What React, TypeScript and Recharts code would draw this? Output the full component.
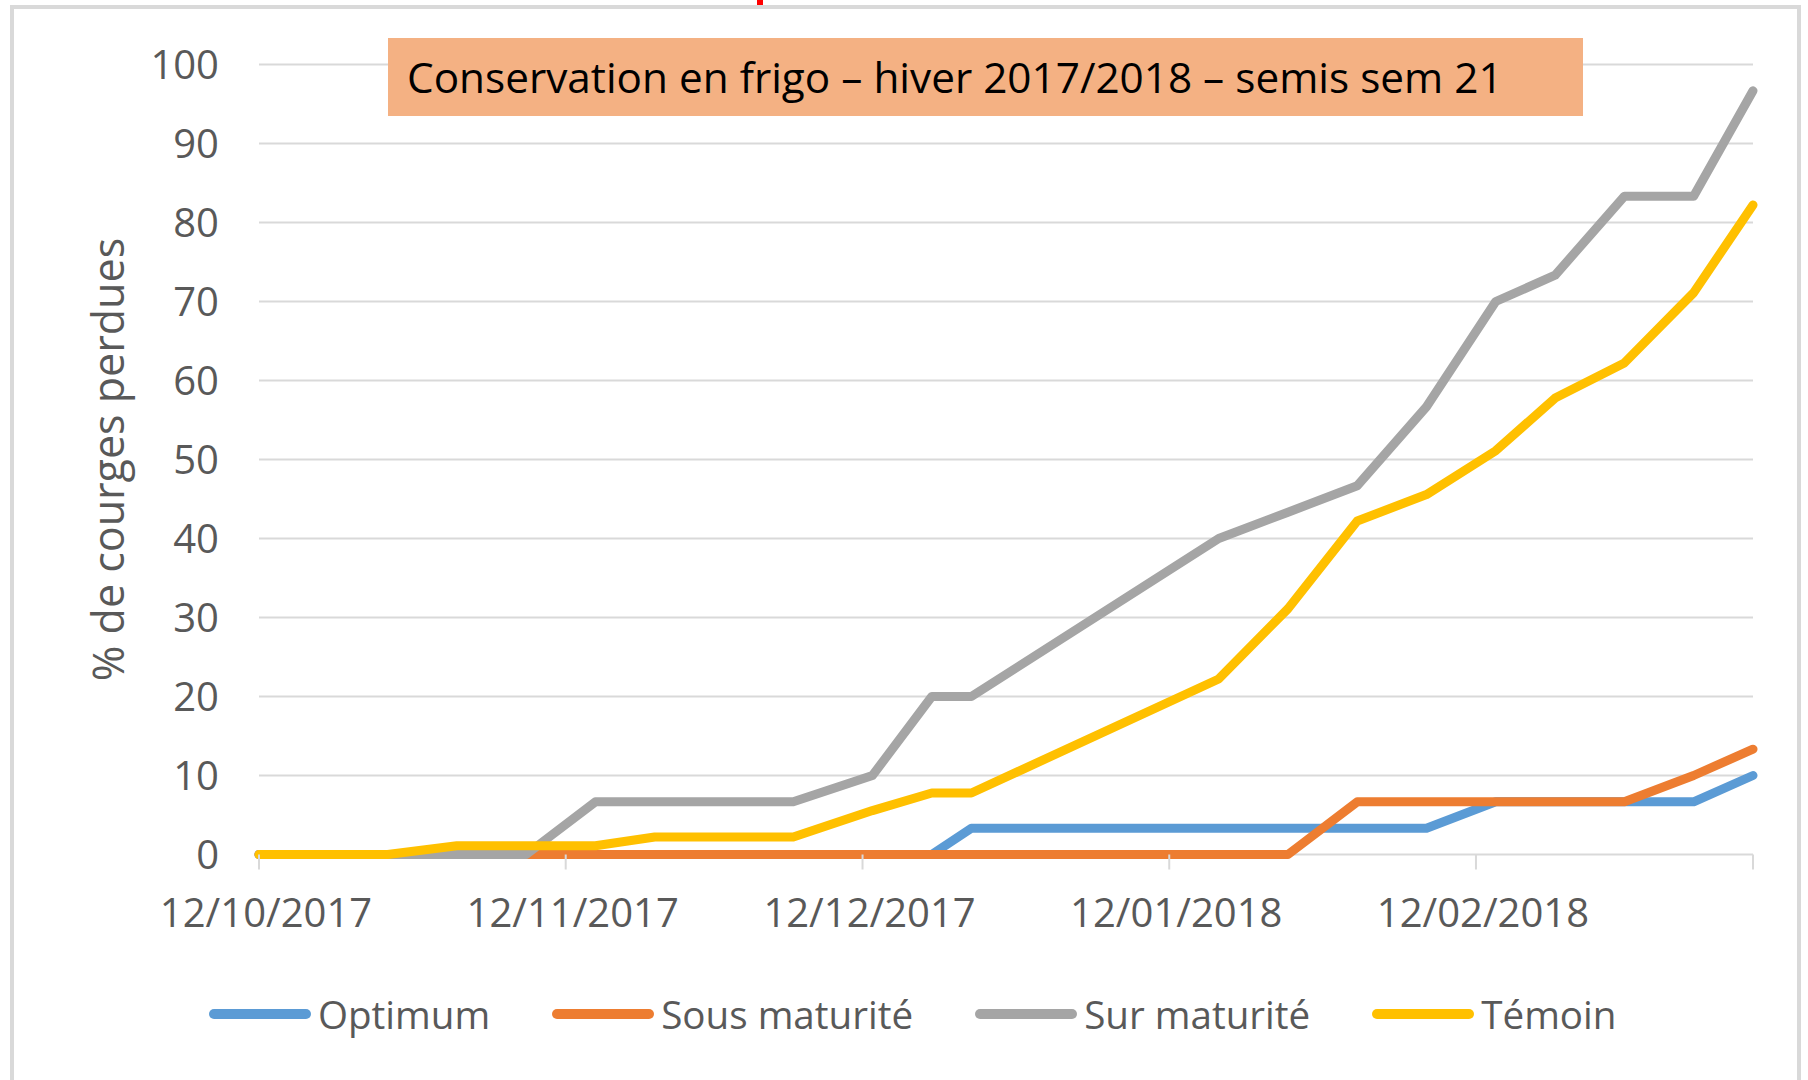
import React from 'react';
import { LineChart, Line, XAxis, YAxis, CartesianGrid, Legend } from 'recharts';

// dates de relevé (jj/mm/aaaa)
const dates = [
  '12/10/2017', '25/10/2017', '01/11/2017', '08/11/2017', '15/11/2017', '21/11/2017',
  '05/12/2017', '13/12/2017', '19/12/2017', '23/12/2017', '17/01/2018', '24/01/2018',
  '31/01/2018', '07/02/2018', '14/02/2018', '20/02/2018', '27/02/2018', '06/03/2018', '12/03/2018',
];

// % de courges perdues
const optimum = [0, 0, 0, 0, 0, 0, 0, 0, 0, 3.33, 3.33, 3.33, 3.33, 3.33, 6.67, 6.67, 6.67, 6.67, 10];
const sousMaturite = [0, 0, 0, 0, 0, 0, 0, 0, 0, 0, 0, 0, 6.67, 6.67, 6.67, 6.67, 6.67, 10, 13.33];
const surMaturite = [0, 0, 0, 0, 6.67, 6.67, 6.67, 10, 20, 20, 40, 43.33, 46.67, 56.67, 70, 73.33, 83.33, 83.33, 96.67];
const temoin = [0, 0, 1.11, 1.11, 1.11, 2.22, 2.22, 5.56, 7.78, 7.78, 22.22, 31.11, 42.22, 45.56, 51.11, 57.78, 62.22, 71.11, 82.22];

const xTickDates = ['12/10/2017', '12/11/2017', '12/12/2017', '12/01/2018', '12/02/2018', '12/03/2018'];
const xTickLabels = ['12/10/2017', '12/11/2017', '12/12/2017', '12/01/2018', '12/02/2018', ''];
const yTicks = [0, 10, 20, 30, 40, 50, 60, 70, 80, 90, 100];

const series = [
  { key: 'optimum', name: 'Optimum', color: '#5B9BD5' },
  { key: 'sous', name: 'Sous maturité', color: '#ED7D31' },
  { key: 'sur', name: 'Sur maturité', color: '#A5A5A5' },
  { key: 'temoin', name: 'Témoin', color: '#FFC000' },
];

const toDay = (s: string) => {
  const [d, m, y] = s.split('/').map(Number);
  return Date.UTC(y, m - 1, d) / 86400000;
};

const data = dates.map((d, i) => ({
  t: toDay(d),
  optimum: optimum[i],
  sous: sousMaturite[i],
  sur: surMaturite[i],
  temoin: temoin[i],
}));

const xTicks = xTickDates.map(toDay);
const FONT = "'Open Sans', sans-serif";
const GREY_TEXT = '#595959';

const XTick = (props: any) => {
  const { x, y, payload } = props;
  const idx = xTicks.indexOf(payload.value);
  return (
    <text x={x + 7} y={y + 55} textAnchor="middle" fill={GREY_TEXT} fontSize={40} fontFamily={FONT}>
      {xTickLabels[idx]}
    </text>
  );
};

const YTitle = (props: any) => {
  const { viewBox } = props;
  const cx = viewBox.x + 107;
  const cy = viewBox.y + viewBox.height / 2;
  return (
    <text
      x={cx}
      y={cy}
      transform={`rotate(-90 ${cx} ${cy})`}
      textAnchor="middle"
      dominantBaseline="central"
      fill={GREY_TEXT}
      fontSize={43}
      fontFamily={FONT}
    >
      % de courges perdues
    </text>
  );
};

const LegendContent = () => (
  <div style={{ display: 'flex', alignItems: 'center', paddingLeft: 209, height: 48 }}>
    {series.map((s) => (
      <div key={s.key} style={{ display: 'flex', alignItems: 'center', marginRight: 62 }}>
        <svg width={102} height={12} style={{ marginRight: 7 }}>
          <line x1={5} y1={6} x2={97} y2={6} stroke={s.color} strokeWidth={10} strokeLinecap="round" />
        </svg>
        <span style={{ fontFamily: FONT, fontSize: 38.6, color: GREY_TEXT, lineHeight: '48px' }}>{s.name}</span>
      </div>
    ))}
  </div>
);

const App: React.FC = () => {
  return (
    <div style={{ position: 'absolute', left: 0, top: 0, width: 1808, height: 1080, background: '#fff', overflow: 'hidden' }}>
      <div style={{ position: 'absolute', left: 757, top: 0, width: 6, height: 5, background: '#FF0000' }} />
      <div
        style={{
          position: 'absolute',
          left: 10,
          top: 5,
          width: 1791,
          height: 1100,
          border: '4px solid #d9d9d9',
          boxSizing: 'border-box',
        }}
      />
      <div style={{ position: 'absolute', left: 0, top: 0 }}>
        <LineChart width={1808} height={1080} data={data} margin={{ top: 64.5, right: 55, bottom: 125.5, left: 0 }}>
          <CartesianGrid vertical={false} stroke="#d9d9d9" strokeWidth={2} />
          <XAxis
            type="number"
            dataKey="t"
            domain={[xTicks[0], xTicks[xTicks.length - 1]]}
            ticks={xTicks}
            interval={0}
            height={100}
            axisLine={false}
            tickLine={{ stroke: '#d9d9d9', strokeWidth: 2 }}
            tickSize={15}
            tick={<XTick />}
          />
          <YAxis
            domain={[0, 100]}
            ticks={yTicks}
            interval={0}
            width={259}
            axisLine={false}
            tickLine={false}
            tickSize={0}
            tickMargin={40}
            tick={{ fill: GREY_TEXT, fontSize: 40, fontFamily: FONT }}
            label={<YTitle />}
          />
          <Legend
            layout="horizontal"
            verticalAlign="middle"
            content={<LegendContent />}
            wrapperStyle={{ top: 990, left: 0, width: 1808, height: 48 }}
          />
          {series.map((s) => (
            <Line
              key={s.key}
              type="linear"
              dataKey={s.key}
              name={s.name}
              stroke={s.color}
              strokeWidth={9}
              strokeLinecap="round"
              strokeLinejoin="round"
              dot={false}
              activeDot={false}
              isAnimationActive={false}
            />
          ))}
        </LineChart>
      </div>
      <div
        style={{
          position: 'absolute',
          left: 388,
          top: 38,
          width: 1195,
          height: 78,
          background: '#F4B183',
          boxSizing: 'border-box',
          paddingLeft: 19,
          fontFamily: FONT,
          fontSize: 42.3,
          lineHeight: '78px',
          color: '#000',
          whiteSpace: 'nowrap',
        }}
      >
        Conservation en frigo – hiver 2017/2018 – semis sem 21
      </div>
    </div>
  );
};

export default App;
